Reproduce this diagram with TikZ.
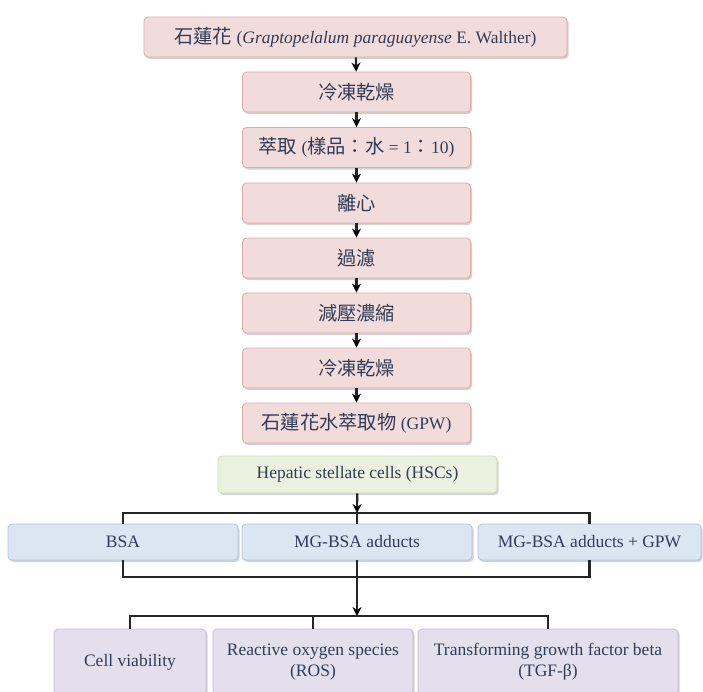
\documentclass[tikz,border=0pt]{standalone}
\usepackage{fontspec}
\setmainfont{Liberation Serif}
\newfontfamily\cjk[Scale=1.1]{Noto Sans CJK TC}
\usetikzlibrary{arrows.meta,shadows}

\definecolor{txtc}{RGB}{48,60,88}
\definecolor{pinkf}{RGB}{242,220,219}
\definecolor{pinkd}{RGB}{222,170,168}
\definecolor{bluef}{RGB}{220,230,242}
\definecolor{blued}{RGB}{170,196,226}
\definecolor{greenf}{RGB}{235,241,222}
\definecolor{greend}{RGB}{206,222,176}
\definecolor{purpf}{RGB}{228,223,236}
\definecolor{purpd}{RGB}{196,186,214}

\tikzset{
  box/.style={rectangle, rounded corners=4pt, line width=0.8pt, text=txtc,
              inner sep=2pt, align=center, font=\fontsize{17.5}{21}\selectfont,
              drop shadow={shadow xshift=1.5pt, shadow yshift=-2pt, fill=black!35}},
  link/.style={line width=2.2pt, draw=black!85}
}

\begin{document}
\begin{tikzpicture}[x=1pt, y=1pt]
\useasboundingbox (0,0) rectangle (703,-691);

\begin{scope}[every node/.style={box, fill=pinkf, draw=pinkd, minimum height=40pt}]
    \node[minimum width=423pt] (plant) at (355.5,-37) {{\cjk 石蓮花} (\textit{Graptopelalum paraguayense} E. Walther)};
    \node[minimum width=228pt] (dry1) at (356.5,-92) {\cjk 冷凍乾燥};
    \node[minimum width=228pt] (extr) at (356.5,-147.5) {{\cjk 萃取} ({\cjk 樣品：水} = 1{\cjk ：}10)};
    \node[minimum width=228pt] (cent) at (356.5,-203) {\cjk 離心};
    \node[minimum width=228pt] (filt) at (356.5,-258) {\cjk 過濾};
    \node[minimum width=228pt] (conc) at (356.5,-313) {\cjk 減壓濃縮};
    \node[minimum width=228pt] (dry2) at (356.5,-368) {\cjk 冷凍乾燥};
    \node[minimum width=228pt] (gpw) at (356.5,-423) {{\cjk 石蓮花水萃取物} (GPW)};
\end{scope}

\node[box, fill=greenf, draw=greend, minimum width=279pt, minimum height=37pt] (hsc) at (357.5,-474.5) {Hepatic stellate cells (HSCs)};

\begin{scope}[every node/.style={box, fill=bluef, draw=blued, minimum height=36pt}]
    \node[minimum width=230pt] (bsa) at (123,-542) {BSA};
    \node[minimum width=230pt] (mg) at (357,-542) {MG-BSA adducts};
    \node[minimum width=223pt] (mgg) at (589.5,-542) {MG-BSA adducts + GPW};
\end{scope}

\begin{scope}[every node/.style={box, fill=purpf, draw=purpd, minimum height=66pt}]
    \node[minimum width=152pt] (cell) at (130,-662) {Cell viability};
    \node[minimum width=200pt] (ros) at (313,-662) {Reactive oxygen species\\(ROS)};
    \node[minimum width=260pt] (tgf) at (548,-662) {Transforming growth factor beta\\(TGF-β)};
\end{scope}

\coordinate (top) at (357,-513);
\coordinate (mid) at (357,-577);
\coordinate (low) at (357,-616);

\begin{scope}[>={Stealth[black, length=9pt, width=9pt]},
              every edge/.style={draw=black!85, line width=2.2pt}]
    \path [->] (plant) edge (dry1);
    \path [->] (dry1) edge (extr);
    \path [->] (extr) edge (cent);
    \path [->] (cent) edge (filt);
    \path [->] (filt) edge (conc);
    \path [->] (conc) edge (dry2);
    \path [->] (dry2) edge (gpw);
    \path [->] (hsc) edge (top);
    \path [->] (mg.south) edge (low);
\end{scope}

% brackets
\draw[link] (bsa.north) |- (top) -| (mgg.north);
\draw[link] (top) -- (mg.north);
\draw[link] (bsa.south) |- (mid) -| (mgg.south);
\draw[link] (cell.north) |- (low) -| (tgf.north);
\draw[link] (ros.north) -- (ros.north |- low);
\end{tikzpicture}
\end{document}
